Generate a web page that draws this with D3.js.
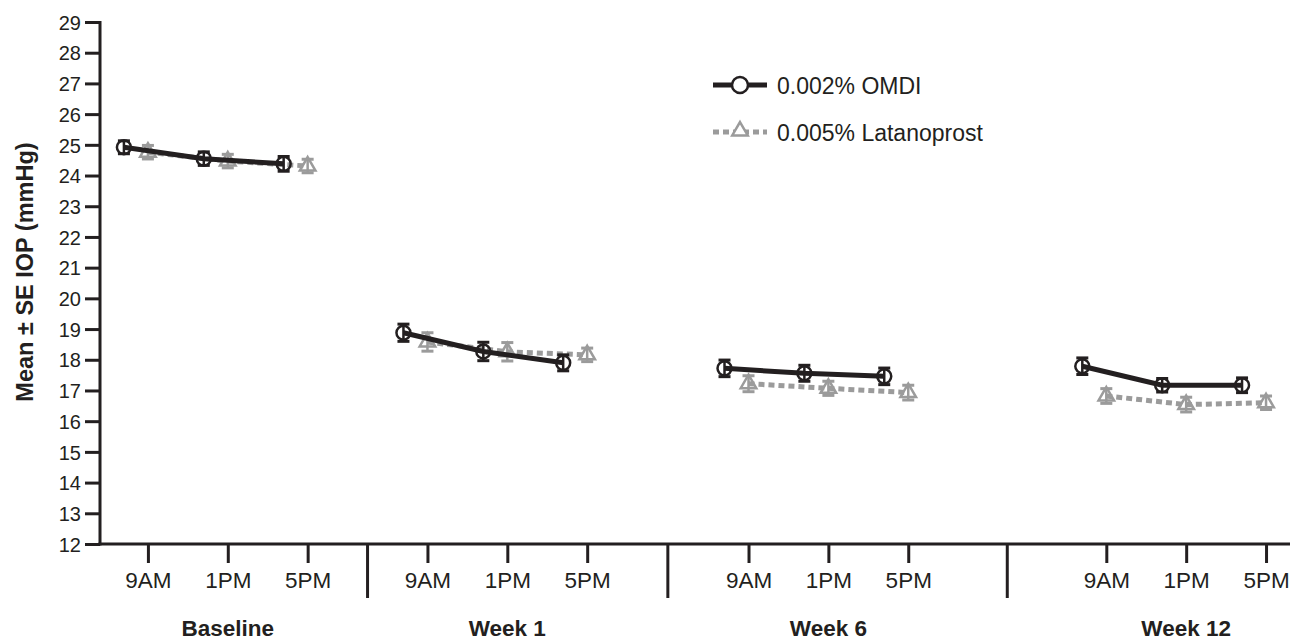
<!DOCTYPE html>
<html>
<head>
<meta charset="utf-8">
<script src="https://cdn.jsdelivr.net/npm/d3@7"></script>
<style>
  body { margin: 0; background: #fff; }
  svg text { font-family: "Liberation Sans", Arial, Helvetica, sans-serif; fill: #231f20; }
</style>
</head>
<body>
<svg id="chart" width="1302" height="643"></svg>
<script>
const groups = ['Baseline', 'Week 1', 'Week 6', 'Week 12'];
const times = ['9AM', '1PM', '5PM'];
const seriesNames = ['0.002% OMDI', '0.005% Latanoprost'];

// mean IOP (mmHg), 12 visits: 3 times x 4 groups
const omdiMean = [24.92, 24.55, 24.38, 18.88, 18.27, 17.90, 17.72, 17.56, 17.46, 17.79, 17.17, 17.17];
const omdiSE = [0.21, 0.22, 0.24, 0.28, 0.30, 0.26, 0.27, 0.26, 0.27, 0.27, 0.22, 0.24];
const latMean = [24.76, 24.47, 24.31, 18.58, 18.26, 18.16, 17.22, 17.07, 16.93, 16.82, 16.54, 16.60];
const latSE = [0.22, 0.22, 0.22, 0.30, 0.30, 0.22, 0.26, 0.23, 0.24, 0.24, 0.24, 0.22];

const yTicks = d3.range(12, 30);

// layout
const groupStart = [0, 3.5, 7.52, 12];
const ink = '#231f20';
const grey = '#9b9b9b';
const omdiShift = -24;

const svg = d3.select('#chart');

const x = d3.scaleLinear().domain([-0.6, 14.3]).range([100, 1290]);
const y = d3.scaleLinear().domain([12, 29]).range([544, 22]);

const slots = [];
groups.forEach((g, gi) => {
  times.forEach((t, ti) => {
    slots.push({ group: gi, time: t, pos: groupStart[gi] + ti });
  });
});

// y axis
const yAxis = svg.append('g')
  .attr('transform', `translate(${x.range()[0]},0)`)
  .call(d3.axisLeft(y).tickValues(yTicks).tickSize(15).tickPadding(4).tickSizeOuter(0));
yAxis.selectAll('path, line').attr('stroke', ink).attr('stroke-width', 3);
yAxis.selectAll('text').style('font-size', '20px').attr('fill', ink).attr('dy', '0.36em');
yAxis.select('.domain').attr('d', `M0,${y(29) - 1}V${y(12) + 1.5}`);

// x axis
const xAxis = svg.append('g')
  .attr('transform', `translate(0,${y(12)})`)
  .call(d3.axisBottom(x)
    .tickValues(slots.map(d => d.pos))
    .tickFormat((d, i) => slots[i].time)
    .tickSize(19).tickPadding(9).tickSizeOuter(0));
xAxis.selectAll('path, line').attr('stroke', ink).attr('stroke-width', 3);
xAxis.selectAll('text').style('font-size', '22.5px').attr('fill', ink);
xAxis.select('.domain').attr('d', `M${x.range()[0] - 1.5},0H${x.range()[1]}`);

// group separators
const seps = groupStart.slice(1).map((s, i) => (groupStart[i] + times.length - 1 + s) / 2);
svg.append('g').selectAll('line')
  .data(seps)
  .join('line')
  .attr('x1', d => x(d)).attr('x2', d => x(d))
  .attr('y1', y(12)).attr('y2', y(12) + 54)
  .attr('stroke', ink).attr('stroke-width', 3);

// group labels
svg.append('g').selectAll('text')
  .data(groups)
  .join('text')
  .attr('x', (d, i) => x(groupStart[i] + 1))
  .attr('y', 636)
  .attr('text-anchor', 'middle')
  .style('font-size', '22.5px')
  .style('font-weight', 'bold')
  .text(d => d);

// y title
svg.append('text')
  .attr('transform', 'translate(33,272) rotate(-90)')
  .attr('text-anchor', 'middle')
  .style('font-size', '23.5px')
  .style('font-weight', 'bold')
  .text('Mean ± SE IOP (mmHg)');

const line = d3.line().x(d => d.x).y(d => d.y);
const triangle = d3.symbol(d3.symbolTriangle, 105);

function drawSeries(means, ses, opts) {
  const pts = slots.map((s, i) => ({
    x: x(s.pos) + opts.shift, y: y(means[i]),
    lo: y(means[i] - ses[i]), hi: y(means[i] + ses[i]), group: s.group
  }));
  const g = svg.append('g');
  g.selectAll('path.series')
    .data(d3.groups(pts, d => d.group).map(d => d[1]))
    .join('path')
    .attr('class', 'series')
    .attr('d', line)
    .attr('fill', 'none')
    .attr('stroke', opts.color)
    .attr('stroke-width', 5)
    .attr('stroke-dasharray', opts.dash);
  const bars = g.selectAll('g.err').data(pts).join('g').attr('class', 'err')
    .attr('stroke', opts.color).attr('stroke-width', 2.5);
  bars.append('line').attr('x1', d => d.x).attr('x2', d => d.x).attr('y1', d => d.lo).attr('y2', d => d.hi);
  bars.append('line').attr('x1', d => d.x - 6).attr('x2', d => d.x + 6).attr('y1', d => d.lo).attr('y2', d => d.lo).attr('stroke-width', 3);
  bars.append('line').attr('x1', d => d.x - 6).attr('x2', d => d.x + 6).attr('y1', d => d.hi).attr('y2', d => d.hi).attr('stroke-width', 3);
  if (opts.marker === 'circle') {
    g.selectAll('circle').data(pts).join('circle')
      .attr('cx', d => d.x).attr('cy', d => d.y).attr('r', 7)
      .attr('fill', 'none').attr('stroke', opts.color).attr('stroke-width', 2.5);
  } else {
    g.selectAll('path.mk').data(pts).join('path').attr('class', 'mk')
      .attr('transform', d => `translate(${d.x},${d.y})`)
      .attr('d', triangle)
      .attr('fill', 'none').attr('stroke', opts.color).attr('stroke-width', 2.5);
  }
}

drawSeries(latMean, latSE, { color: grey, dash: '6,4', marker: 'triangle', shift: 0 });
drawSeries(omdiMean, omdiSE, { color: ink, dash: null, marker: 'circle', shift: omdiShift });

// legend
const legend = svg.append('g').attr('transform', 'translate(713,85)');
const items = [
  { name: seriesNames[0], color: ink, dash: null, marker: 'circle' },
  { name: seriesNames[1], color: grey, dash: '6,4', marker: 'triangle' }
];
const li = legend.selectAll('g').data(items).join('g')
  .attr('transform', (d, i) => `translate(0,${i * 47})`);
li.append('line').attr('x1', 0).attr('x2', 54).attr('y1', 0).attr('y2', 0)
  .attr('stroke', d => d.color).attr('stroke-width', 5)
  .attr('stroke-dasharray', d => d.dash);
li.filter(d => d.marker === 'circle').append('circle')
  .attr('cx', 27).attr('r', 8)
  .attr('fill', '#fff').attr('stroke', d => d.color).attr('stroke-width', 2.5);
li.filter(d => d.marker === 'triangle').append('path')
  .attr('transform', 'translate(27,-1)')
  .attr('d', triangle)
  .attr('fill', '#fff').attr('stroke', d => d.color).attr('stroke-width', 2.5);
li.append('text').attr('x', 64).attr('y', 9)
  .style('font-size', '23px')
  .text(d => d.name);
</script>
</body>
</html>
